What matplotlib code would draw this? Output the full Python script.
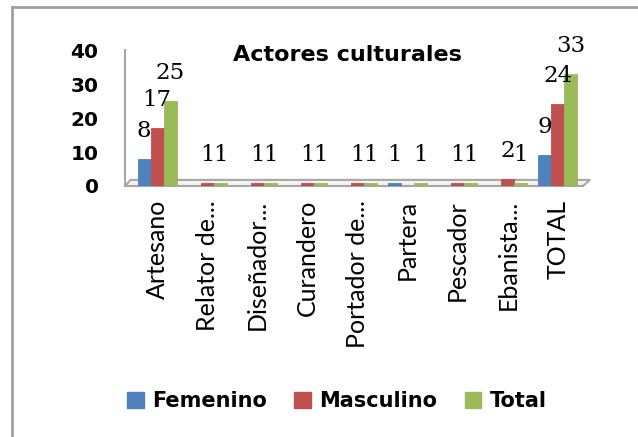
import matplotlib
matplotlib.use("Agg")
import matplotlib.pyplot as plt
import numpy as np
from matplotlib.patches import Patch, Polygon
from matplotlib.lines import Line2D

categories = ["Artesano", "Relator de...", "Diseñador...", "Curandero", "Portador de...",
              "Partera", "Pescador", "Ebanista...", "TOTAL"]
femenino = [8, 0, 0, 0, 0, 1, 0, 0, 9]
masculino = [17, 1, 1, 1, 1, 0, 1, 2, 24]
total = [25, 1, 1, 1, 1, 1, 1, 1, 33]
series_names = ["Femenino", "Masculino", "Total"]
colors = ["#4F81BD", "#C0504D", "#9BBB59"]
yticks = [0, 10, 20, 30, 40]
title = "Actores culturales"

W, H = 638, 437
fig = plt.figure(figsize=(W / 100, H / 100), dpi=100)
fig.patch.set_facecolor("white")

ax = fig.add_axes([125 / W, 1 - 186 / H, (590 - 125) / W, (186 - 50) / H])
x = np.arange(len(categories))
bw = 0.26
series = [femenino, masculino, total]
for i, (vals, c) in enumerate(zip(series, colors)):
    xs = x + (i - 1) * bw
    v = np.array(vals, dtype=float)
    mask = v > 0
    ax.bar(xs[mask], v[mask], width=bw, color=c, edgecolor=c, linewidth=0.6, zorder=3)
    for xi, vi in zip(xs[mask], v[mask]):
        ax.annotate(f"{int(vi)}", xy=(xi, vi), xytext=(0, 17), textcoords="offset pixels",
                    ha="center", va="bottom", fontsize=16.5, family="DejaVu Serif", color="black",
                    zorder=5)

ax.set_xlim(-0.64, len(categories) - 1 + 0.64)
ax.set_ylim(0, 40)
ax.set_yticks(yticks)
ax.set_yticklabels([str(t) for t in yticks], fontsize=14.5, fontweight="bold", family="DejaVu Sans")
ax.set_xticks(x)
ax.set_xticklabels(categories, rotation=90, fontsize=18, family="Lato", va="top", ha="center")
ax.tick_params(axis="y", length=0, pad=19)
ax.tick_params(axis="x", length=0, pad=10)
for s in ["top", "right"]:
    ax.spines[s].set_visible(False)
ax.spines["left"].set_color("#A6A6A6")
ax.spines["left"].set_linewidth(1.5)
ax.spines["bottom"].set_visible(False)

# 3D-like floor
floor = Polygon([(0, 0), (0.012, 0.045), (1.0, 0.045), (0.985, 0.0)], closed=True,
                transform=ax.transAxes, facecolor="#F2F2F2", edgecolor="#A6A6A6",
                linewidth=1.5, clip_on=False, zorder=2)
ax.add_patch(floor)

fig.text(347 / W, 1 - 55 / H, title, ha="center", va="center", fontsize=16,
         fontweight="bold", family="DejaVu Sans")

handles = [Patch(facecolor=c, edgecolor=c) for c in colors]
fig.legend(handles, series_names, loc="center", bbox_to_anchor=(337 / W, 1 - 401 / H),
           ncol=3, frameon=False, prop={"family": "DejaVu Sans", "weight": "bold", "size": 15},
           handlelength=0.8, handleheight=0.8, handletextpad=0.4, columnspacing=1.3)

# chart frame
fig.add_artist(Line2D([12 / W, 12 / W], [0, 1 - 7 / H], transform=fig.transFigure,
                      color="#A0A0A0", lw=2))
fig.add_artist(Line2D([12 / W, 1], [1 - 7 / H, 1 - 7 / H], transform=fig.transFigure,
                      color="#A0A0A0", lw=2))

fig.savefig("out.png", dpi=100, facecolor="white")
